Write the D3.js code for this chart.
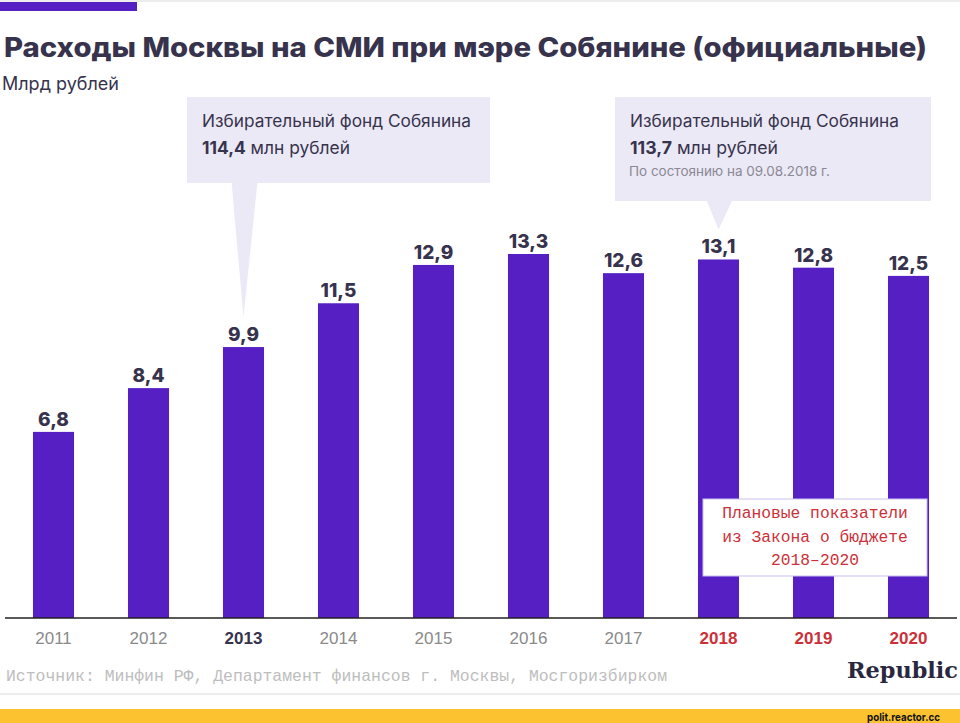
<!DOCTYPE html>
<html><head><meta charset="utf-8">
<script src="https://cdn.jsdelivr.net/npm/d3@7"></script>
<style>body{margin:0;background:#fff}svg{display:block}</style>
</head><body>
<svg id="c" width="960" height="723"></svg>
<script>
const years = ["2011","2012","2013","2014","2015","2016","2017","2018","2019","2020"];
const values = [6.8, 8.4, 9.9, 11.5, 12.9, 13.3, 12.6, 13.1, 12.8, 12.5];
const boldYears = ["2013"];
const planYears = ["2018","2019","2020"];
const title = "Расходы Москвы на СМИ при мэре Собянине (официальные)";
const subtitle = "Млрд рублей";
const note1 = {year:"2013", line1:"Избирательный фонд Собянина", amount:"114,4", unit:" млн рублей", extra:null};
const note2 = {year:"2018", line1:"Избирательный фонд Собянина", amount:"113,7", unit:" млн рублей", extra:"По состоянию на 09.08.2018 г."};
const planText = ["Плановые показатели","из Закона о бюджете","2018–2020"];
const source = "Источник: Минфин РФ, Департамент финансов г. Москвы, Мосгоризбирком";

const svg = d3.select("#c");
const dark = "#37334d", purple = "#551fc4", red = "#cc3038";
const sans = "Inter, 'Noto Sans', sans-serif";
const fmt = v => String(v).replace(".", ",");

const x = d3.scaleBand().domain(years).range([6, 956]).paddingInner(0.568).paddingOuter(0.284);
const y = d3.scaleLinear().domain([0, 13.3]).range([618, 254]);

function fit(sel, w){ const n=sel.node(); const l=n.getComputedTextLength(); if(l>0){ sel.attr("textLength", w).attr("lengthAdjust","spacingAndGlyphs"); } }

// top decoration
svg.append("line").attr("x1",0).attr("x2",960).attr("y1",1).attr("y2",1).attr("stroke","#e6e6e6").attr("stroke-width",1.5);
svg.append("rect").attr("x",0).attr("y",2).attr("width",137).attr("height",9).attr("fill",purple);

// title
const t = svg.append("text").attr("x",4).attr("y",57).attr("fill",dark).attr("font-family",sans)
  .attr("font-weight",800).attr("font-size",27).text(title);
fit(t, 923);
svg.append("text").attr("x",2).attr("y",90).attr("fill",dark).attr("font-family",sans)
  .attr("font-size",18).text(subtitle);

// annotation boxes
function note(n, box){
  const g = svg.append("g");
  const cx = x(n.year) + x.bandwidth()/2;
  const tipY = y(values[years.indexOf(n.year)]) - 30;
  g.append("rect").attr("x",box.x).attr("y",box.y).attr("width",box.w).attr("height",box.h).attr("fill","#ebe9f6");
  g.append("path").attr("d",`M${cx-12},${box.y+box.h-1}L${cx+14},${box.y+box.h-1}L${cx},${tipY}Z`).attr("fill","#ebe9f6");
  const l1 = g.append("text").attr("x",box.x+15).attr("y",box.y+30).attr("fill",dark).attr("font-family",sans).attr("font-size",17).text(n.line1);
  fit(l1, 269);
  const l2 = g.append("text").attr("x",box.x+15).attr("y",box.y+57).attr("fill",dark).attr("font-family",sans).attr("font-size",17.5);
  l2.append("tspan").attr("font-weight",700).text(n.amount);
  l2.append("tspan").text(n.unit);
  fit(l2, 148);
  if(n.extra){
    const l3 = g.append("text").attr("x",box.x+14).attr("y",box.y+79).attr("fill","#8a8894").attr("font-family",sans).attr("font-size",13.5).text(n.extra);
    fit(l3, 201);
  }
}
note(note1, {x:187, y:97, w:303, h:86});
note(note2, {x:615, y:97, w:316, h:104});

// bars
svg.append("g").selectAll("rect").data(years).join("rect")
  .attr("x", d => x(d)).attr("width", x.bandwidth())
  .attr("y", (d,i) => y(values[i])).attr("height", (d,i) => y(0) - y(values[i]))
  .attr("fill", purple);

// value labels
svg.append("g").selectAll("text").data(years).join("text")
  .attr("x", d => x(d) + x.bandwidth()/2).attr("y", (d,i) => y(values[i]) - 6)
  .attr("text-anchor","middle").attr("fill",dark).attr("font-family",sans)
  .attr("font-weight",800).attr("font-size",19).text((d,i) => fmt(values[i]));

// axis
const ax = svg.append("g").attr("transform","translate(0,618)")
  .call(d3.axisBottom(x).tickSize(0).tickPadding(14));
ax.select(".domain").attr("d","M5,0H957").attr("stroke","#222").attr("stroke-width",1.5);
ax.selectAll(".tick text")
  .attr("font-family","'Liberation Sans', Arial, sans-serif").attr("font-size",17)
  .attr("fill", d => planYears.includes(d) ? red : boldYears.includes(d) ? dark : "#8a8a8a")
  .attr("font-weight", d => (planYears.includes(d) || boldYears.includes(d)) ? 700 : 400);

// plan box
const pg = svg.append("g");
pg.append("rect").attr("x",703).attr("y",499).attr("width",224).attr("height",77).attr("fill","#fff").attr("stroke","#c9bff0").attr("stroke-width",1);
pg.selectAll("text").data(planText).join("text")
  .attr("x",815).attr("y",(d,i)=>518 + i*23.5).attr("text-anchor","middle")
  .attr("fill",red).attr("font-family","'Liberation Mono', 'DejaVu Sans Mono', monospace").attr("font-size",16.3).text(d=>d);

// source
const src = svg.append("text").attr("x",6).attr("y",681).attr("fill","#bdbdbd")
  .attr("font-family","'Liberation Mono', monospace").attr("font-size",16.2).text(source);
fit(src, 661);
const rp = svg.append("text").attr("x",847).attr("y",678).attr("fill","#2a2740")
  .attr("font-family","'DejaVu Serif', serif").attr("font-weight",700).attr("font-size",23).text("Republic");
fit(rp, 111);

svg.append("line").attr("x1",0).attr("x2",960).attr("y1",694).attr("y2",694).attr("stroke","#e6e6e6").attr("stroke-width",1.5);
svg.append("rect").attr("x",0).attr("y",709).attr("width",960).attr("height",14).attr("fill","#fcc230");
const pr = svg.append("text").attr("x",867).attr("y",720.5).attr("fill","#111").attr("font-family",sans)
  .attr("font-weight",700).attr("font-size",11).text("polit.reactor.cc");
fit(pr, 73);
</script>
</body></html>
